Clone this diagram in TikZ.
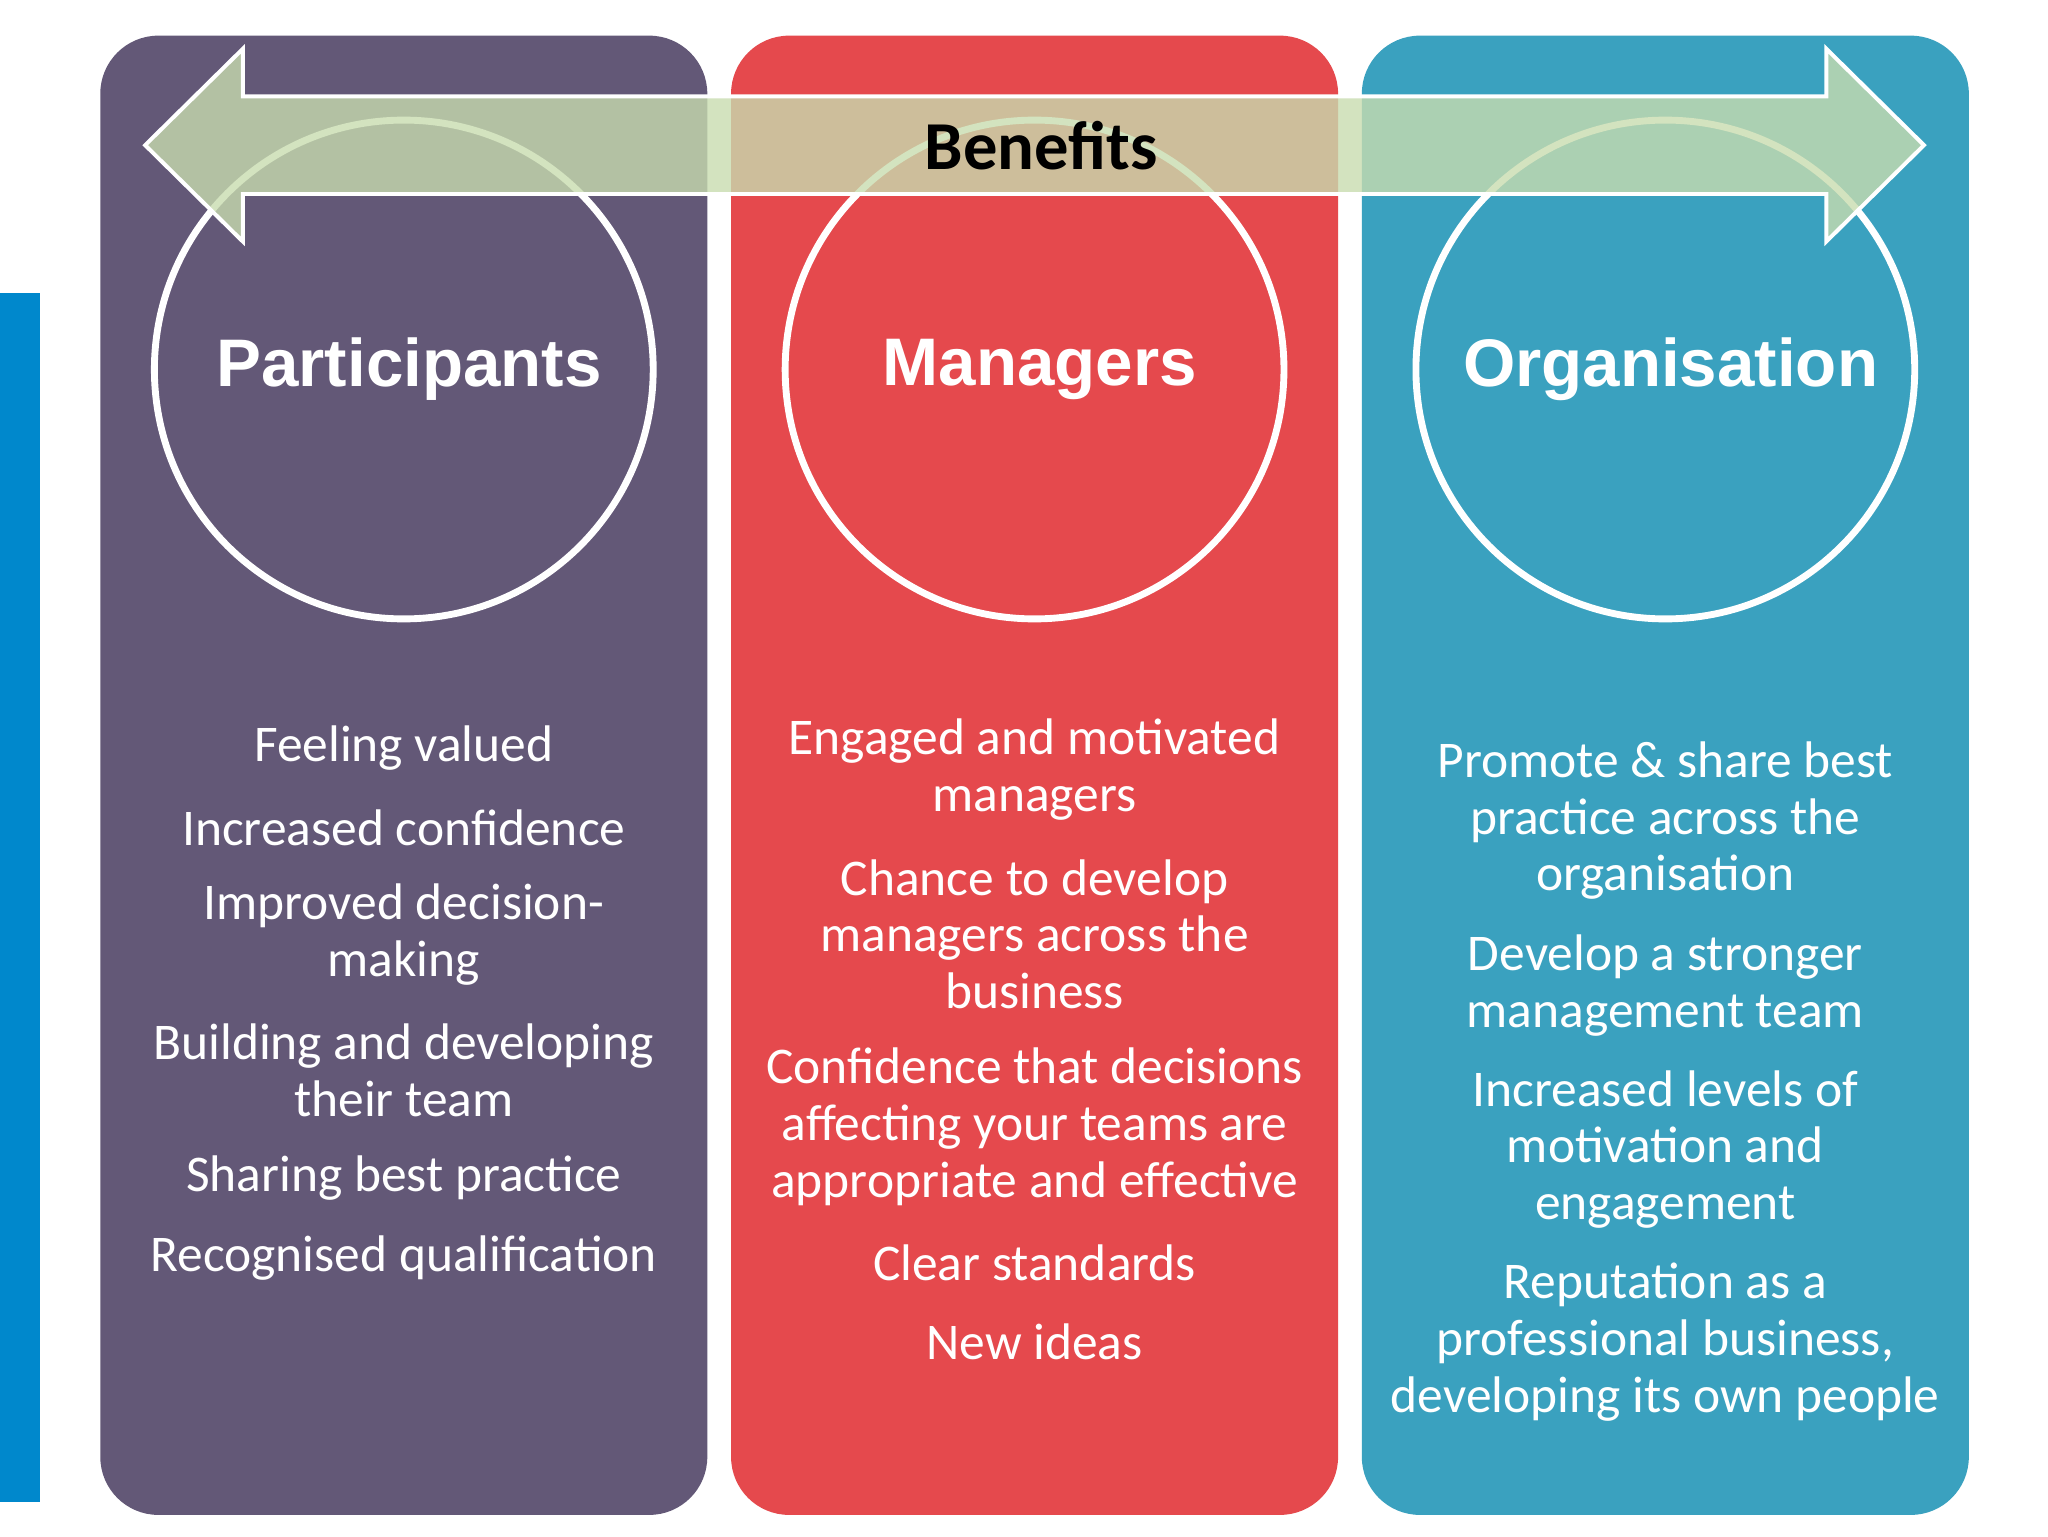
\documentclass[tikz,border=0pt]{standalone}
\usepackage{fontspec}
\setmainfont{Carlito}
\newfontfamily\headfont{Liberation Sans}
\begin{document}
\begin{tikzpicture}[x=0.5pt,y=-0.5pt,
  col/.style={rounded corners=22pt},
  ring/.style={draw=white,line width=2.6pt},
  title/.style={text=white,font=\headfont\bfseries\fontsize{25.5}{30}\selectfont},
  item/.style={text=white,align=center,font=\fontsize{19.5}{21.5}\selectfont}]
\useasboundingbox (0,0) rectangle (1552,1164);
\fill[white] (0,0) rectangle (1552,1164);
\fill[color={rgb,255:red,0;green,136;blue,204}] (0,222) rectangle (30,1138);
\definecolor{cA}{RGB}{99,88,119}
\definecolor{cB}{RGB}{229,73,77}
\definecolor{cC}{RGB}{58,161,191}
\fill[cA,col] (76,27) rectangle (536,1148);
\fill[cB,col] (554,27) rectangle (1014,1148);
\fill[cC,col] (1032,27) rectangle (1492,1148);
\node[ring,circle,minimum size=189pt,inner sep=0] (c1) at (306,280) {};
\node[ring,circle,minimum size=189pt,inner sep=0] (c2) at (784,280) {};
\node[ring,circle,minimum size=189pt,inner sep=0] (c3) at (1262,280) {};
\fill[fill={rgb,255:red,200;green,220;blue,175},fill opacity=0.8,draw=white,line width=1.5pt]
 (110,110) -- (184,37) -- (184,73) -- (1384,73) -- (1384,37) -- (1458,110) -- (1384,183) -- (1384,147) -- (184,147) -- (184,183) -- cycle;
\node[font=\bfseries\fontsize{26}{30}\selectfont] (ben) at (789,110) {Benefits};
\node[title] (t1) at (310,280) {Participants};
\node[title] (t2) at (788,280) {Managers};
\node[title] (t3) at (1266,280) {Organisation};
\node[item] (a1) at (306,567) {Feeling valued};
\node[item] (a2) at (306,627) {Increased confidence};
\node[item] (a3) at (306,708) {Improved decision-\\making};
\node[item] (a4) at (306,811) {Building and developing\\their team};
\node[item] (a5) at (306,893) {Sharing best practice};
\node[item] (a6) at (306,953) {Recognised qualification};
\node[item] (b1) at (784,583) {Engaged and motivated\\managers};
\node[item] (b2) at (784,708) {Chance to develop\\managers across the\\business};
\node[item] (b3) at (784,854) {Confidence that decisions\\affecting your teams are\\appropriate and effective};
\node[item] (b4) at (784,957) {Clear standards};
\node[item] (b5) at (784,1017) {New ideas};
\node[item] (d1) at (1262,622) {Promote \& share best\\practice across the\\organisation};
\node[item] (d2) at (1262,747) {Develop a stronger\\management team};
\node[item] (d3) at (1262,871) {Increased levels of\\motivation and\\engagement};
\node[item] (d4) at (1262,1017) {Reputation as a\\professional business,\\developing its own people};
\end{tikzpicture}
\end{document}
